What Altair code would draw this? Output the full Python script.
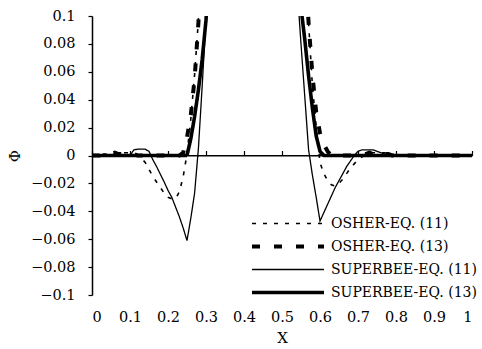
import altair as alt
import pandas as pd

X = [0.00, 0.01, 0.02, 0.03, 0.04, 0.05, 0.06, 0.07, 0.08, 0.09,
     0.10, 0.11, 0.12, 0.13, 0.14, 0.15, 0.16, 0.17, 0.18, 0.19,
     0.20, 0.21, 0.22, 0.23, 0.24, 0.25, 0.26, 0.27, 0.28, 0.29,
     0.30, 0.31, 0.32, 0.33, 0.34, 0.35, 0.36, 0.37, 0.38, 0.39,
     0.40, 0.41, 0.42, 0.43, 0.44, 0.45, 0.46, 0.47, 0.48, 0.49,
     0.50, 0.51, 0.52, 0.53, 0.54, 0.55, 0.56, 0.57, 0.58, 0.59,
     0.60, 0.61, 0.62, 0.63, 0.64, 0.65, 0.66, 0.67, 0.68, 0.69,
     0.70, 0.71, 0.72, 0.73, 0.74, 0.75, 0.76, 0.77, 0.78, 0.79,
     0.80, 0.81, 0.82, 0.83, 0.84, 0.85, 0.86, 0.87, 0.88, 0.89,
     0.90, 0.91, 0.92, 0.93, 0.94, 0.95, 0.96, 0.97, 0.98, 0.99, 1.00]

OSHER_11 = [0, 0, 0, 0.001, 0.001, 0.002, 0.001, 0.001, 0.002, 0.002,
            0.002, 0.001, 0.0, -0.002, -0.005, -0.010, -0.015, -0.019, -0.023, -0.027,
            -0.030, -0.031, -0.031, -0.026, -0.015, 0.001, 0.026, 0.058, 0.097, 0.16,
            0.25, 0.4, 0.6, 1.0, 1.0, 1.0, 1.0, 1.0, 1.0, 1.0,
            1.0, 1.0, 1.0, 1.0, 1.0, 1.0, 1.0, 1.0, 1.0, 1.0,
            1.0, 1.0, 1.0, 0.6, 0.4, 0.25, 0.15, 0.095, 0.05, 0.02,
            -0.005, -0.013, -0.018, -0.021, -0.022, -0.020, -0.017, -0.013, -0.009, -0.006,
            -0.003, -0.001, 0.0, 0.001, 0.002, 0.002, 0.002, 0.002, 0.001, 0.001,
            0, 0, 0, 0, 0, 0, 0, 0, 0, 0,
            0, 0, 0, 0, 0, 0, 0, 0, 0, 0, 0]

OSHER_13 = [0, 0, 0, 0.001, 0.001, 0.001, 0.002, 0.001, 0.001, 0.002,
            0.002, 0.001, 0, 0, 0, 0, 0, 0, 0, 0,
            0, 0, 0, 0, 0.002, 0.013, 0.029, 0.055, 0.095, 0.16,
            0.26, 0.4, 0.6, 1.0, 1.0, 1.0, 1.0, 1.0, 1.0, 1.0,
            1.0, 1.0, 1.0, 1.0, 1.0, 1.0, 1.0, 1.0, 1.0, 1.0,
            1.0, 1.0, 1.0, 0.6, 0.4, 0.24, 0.14, 0.095, 0.058, 0.031,
            0.016, 0.008, 0.003, 0.0, 0, 0, 0, 0, 0, 0,
            0, 0.001, 0.001, 0.002, 0.001, 0.001, 0.002, 0.001, 0.001, 0,
            0, 0, 0, 0, 0, 0, 0, 0, 0, 0,
            0, 0, 0, 0, 0, 0, 0, 0, 0, 0, 0]

SUPERBEE_11 = [0, 0, 0, 0, 0, 0, 0, 0, 0, 0,
               0, 0.004, 0.0045, 0.0045, 0.0045, 0.003, -0.003, -0.008, -0.0135, -0.019,
               -0.025, -0.030, -0.037, -0.044, -0.052, -0.061, -0.045, -0.027, 0.005, 0.05,
               0.098, 0.16, 0.25, 1.0, 1.0, 1.0, 1.0, 1.0, 1.0, 1.0,
               1.0, 1.0, 1.0, 1.0, 1.0, 1.0, 1.0, 1.0, 1.0, 1.0,
               1.0, 1.0, 1.0, 0.25, 0.12, 0.080, 0.042, 0.004, -0.014, -0.030,
               -0.047, -0.041, -0.035, -0.029, -0.023, -0.018, -0.013, -0.008, -0.004, 0.0,
               0.003, 0.004, 0.004, 0.004, 0.004, 0.003, 0.002, 0.001, 0.0005, 0,
               0, 0, 0, 0, 0, 0, 0, 0, 0, 0,
               0, 0, 0, 0, 0, 0, 0, 0, 0, 0, 0]

SUPERBEE_13 = [0, 0, 0, 0, 0, 0, 0, 0, 0, 0,
               0, 0, 0, 0, 0, 0, 0, 0, 0, 0,
               0, 0, 0, 0, 0, 0, 0.012, 0.028, 0.047, 0.069,
               0.097, 0.14, 0.2, 1.0, 1.0, 1.0, 1.0, 1.0, 1.0, 1.0,
               1.0, 1.0, 1.0, 1.0, 1.0, 1.0, 1.0, 1.0, 1.0, 1.0,
               1.0, 1.0, 1.0, 0.2, 0.14, 0.106, 0.083, 0.057, 0.034, 0.014,
               0.003, 0, 0, 0, 0, 0, 0, 0, 0, 0,
               0, 0, 0, 0, 0, 0, 0, 0, 0, 0,
               0, 0, 0, 0, 0, 0, 0, 0, 0, 0,
               0, 0, 0, 0, 0, 0, 0, 0, 0, 0, 0]

SERIES = ["OSHER-EQ. (11)", "OSHER-EQ. (13)", "SUPERBEE-EQ. (11)", "SUPERBEE-EQ. (13)"]
VALUES = [OSHER_11, OSHER_13, SUPERBEE_11, SUPERBEE_13]
DASHES = [[4, 7], [8, 14], [1, 0], [1, 0]]
WIDTHS = [1.6, 4, 1.3, 3.6]

X_TICKS = [0, 0.1, 0.2, 0.3, 0.4, 0.5, 0.6, 0.7, 0.8, 0.9, 1.0]
Y_TICKS = [-0.1, -0.08, -0.06, -0.04, -0.02, 0, 0.02, 0.04, 0.06, 0.08, 0.1]

rows = []
for name, vals in zip(SERIES, VALUES):
    for i, (x, y) in enumerate(zip(X, vals)):
        rows.append({"x": x, "y": y, "series": name, "order": i})
df = pd.DataFrame(rows)

FONT = "DejaVu Serif"
W, H = 380, 279

xscale = alt.Scale(domain=[0, 1], nice=False)
yscale = alt.Scale(domain=[-0.1, 0.1], nice=False)
yaxis = alt.Axis(values=Y_TICKS, format="~g", grid=False, tickSize=4,
                 labelPadding=13, title="Φ", titlePadding=8,
                 domainWidth=1.5, tickWidth=1.2)

lines = alt.Chart(df).mark_line(clip=True).encode(
    x=alt.X("x:Q", scale=xscale,
            axis=alt.Axis(orient="bottom", values=X_TICKS, format="~g", domain=False,
                          ticks=False, grid=False, labelPadding=15, title="X",
                          titlePadding=7)),
    y=alt.Y("y:Q", scale=yscale, axis=yaxis),
    color=alt.Color("series:N", scale=alt.Scale(domain=SERIES, range=["black"] * 4),
                    legend=alt.Legend(title=None, orient="none", legendX=158, legendY=196,
                                      symbolType="stroke", symbolSize=5184, clipHeight=23,
                                      rowPadding=0, padding=0, labelOffset=5,
                                      symbolOffset=0, labelFont=FONT, labelFontSize=14,
                                      labelColor="black", labelLimit=300)),
    strokeDash=alt.StrokeDash("series:N", scale=alt.Scale(domain=SERIES, range=DASHES)),
    strokeWidth=alt.StrokeWidth("series:N",
                                scale=alt.Scale(type="ordinal", domain=SERIES, range=WIDTHS)),
    order="order:Q",
)

zero = alt.Chart(pd.DataFrame({"a": [0], "b": [1], "z": [0]})).mark_rule(
    color="black", strokeWidth=1.2).encode(
    x=alt.X("a:Q", scale=xscale,
            axis=alt.Axis(orient="top", values=X_TICKS, labels=False, title=None,
                          offset=-H / 2, tickSize=5, grid=False, domainWidth=1.2,
                          tickWidth=1.2)),
    x2="b:Q",
    y=alt.Y("z:Q", scale=yscale, axis=yaxis),
)

chart = alt.layer(zero, lines).resolve_axis(x="independent").properties(
    width=W, height=H,
    autosize=alt.AutoSizeParams(type="none"),
    padding={"left": 92, "top": 16, "right": 10, "bottom": 54},
).configure_view(stroke=None).configure_axis(
    labelFont=FONT, labelFontSize=14.5, labelColor="black", titleFont=FONT,
    titleFontSize=15, titleFontWeight="normal", titleColor="black",
    domainColor="black", tickColor="black",
).configure_legend(labelFont=FONT)

chart.save("out.html", embed_options={"renderer": "svg", "actions": False})
